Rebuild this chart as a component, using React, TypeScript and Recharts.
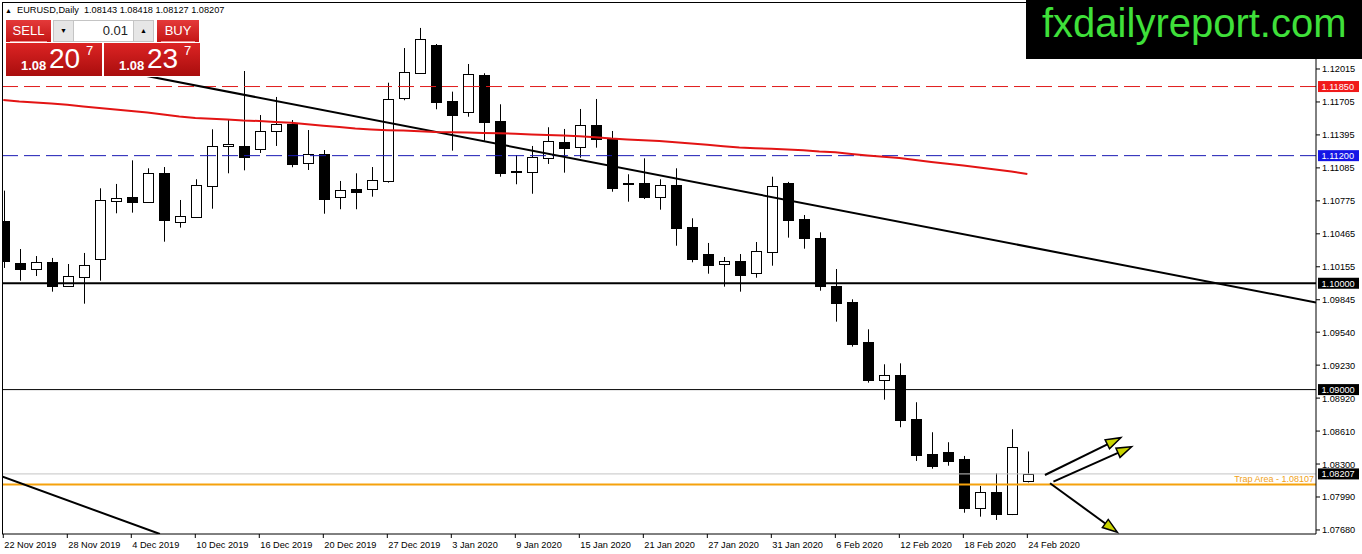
import React from 'react';
import { ComposedChart, Bar, Line, XAxis, YAxis, ReferenceLine } from 'recharts';

// date labels, one every 4 bars
const tickLabels = [
  '22 Nov 2019', '28 Nov 2019', '4 Dec 2019', '10 Dec 2019', '16 Dec 2019', '20 Dec 2019',
  '27 Dec 2019', '3 Jan 2020', '9 Jan 2020', '15 Jan 2020', '21 Jan 2020', '27 Jan 2020',
  '31 Jan 2020', '6 Feb 2020', '12 Feb 2020', '18 Feb 2020', '24 Feb 2020',
];

const open = [
  1.10588, 1.10188, 1.10131, 1.10197, 1.09977, 1.10062, 1.10225, 1.10777, 1.10811, 1.10761,
  1.11037, 1.10573, 1.10626, 1.10918, 1.11288, 1.11291, 1.11266, 1.11429, 1.11498, 1.11128,
  1.11213, 1.10808, 1.10889, 1.10884, 1.10965, 1.11745, 1.11975, 1.12241, 1.11714, 1.11608,
  1.11959, 1.11526, 1.11053, 1.11049, 1.11175, 1.11329, 1.11279, 1.11486, 1.11354, 1.10940,
  1.10940, 1.10808, 1.10921, 1.10529, 1.10275, 1.10178, 1.10209, 1.10094, 1.10297, 1.10943,
  1.10602, 1.10423, 1.09974, 1.09824, 1.09448, 1.09088, 1.09137, 1.08724, 1.08395, 1.08413,
  1.08347, 1.07890, 1.08037, 1.07827, 1.08143,
];
const high = [
  1.10871, 1.10322, 1.10256, 1.10238, 1.10181, 1.10285, 1.10893, 1.10934, 1.11156, 1.11081,
  1.11093, 1.10783, 1.10978, 1.11448, 1.11535, 1.11996, 1.11582, 1.11752, 1.11535, 1.11441,
  1.11253, 1.10962, 1.11034, 1.11093, 1.11886, 1.12212, 1.12401, 1.12250, 1.11802, 1.12062,
  1.11975, 1.11683, 1.11206, 1.11291, 1.11467, 1.11451, 1.11639, 1.11733, 1.11432, 1.11025,
  1.11175, 1.10978, 1.11081, 1.10611, 1.10379, 1.10247, 1.10275, 1.10388, 1.11002, 1.10953,
  1.10642, 1.10479, 1.10134, 1.09849, 1.09567, 1.09238, 1.09247, 1.08881, 1.08599, 1.08505,
  1.08376, 1.08094, 1.08213, 1.08627, 1.08418,
];
const low = [
  1.10144, 1.10024, 1.10068, 1.09921, 1.09970, 1.09808, 1.10024, 1.10658, 1.10664, 1.10755,
  1.10391, 1.10523, 1.10617, 1.10701, 1.11034, 1.11062, 1.11225, 1.11291, 1.11091, 1.11065,
  1.10654, 1.10696, 1.10696, 1.10814, 1.10946, 1.11721, 1.11968, 1.11636, 1.11247, 1.11566,
  1.11341, 1.11002, 1.10931, 1.10842, 1.11122, 1.11040, 1.11181, 1.11275, 1.10861, 1.10767,
  1.10792, 1.10692, 1.10353, 1.10197, 1.10090, 1.09968, 1.09921, 1.10052, 1.10165, 1.10429,
  1.10325, 1.09930, 1.09639, 1.09404, 1.09065, 1.08905, 1.08646, 1.08329, 1.08256, 1.08284,
  1.07842, 1.07805, 1.07774, 1.07820, 1.08127,
];
const close = [
  1.10212, 1.10131, 1.10197, 1.09977, 1.10066, 1.10169, 1.10780, 1.10799, 1.10767, 1.11037,
  1.10598, 1.10630, 1.10924, 1.11288, 1.11307, 1.11190, 1.11432, 1.11495, 1.11124, 1.11213,
  1.10795, 1.10877, 1.10861, 1.10971, 1.11733, 1.11987, 1.12297, 1.11708, 1.11585, 1.11965,
  1.11519, 1.11040, 1.11044, 1.11190, 1.11335, 1.11275, 1.11486, 1.11354, 1.10893, 1.10934,
  1.10808, 1.10921, 1.10523, 1.10231, 1.10175, 1.10209, 1.10081, 1.10303, 1.10912, 1.10598,
  1.10429, 1.09970, 1.09817, 1.09432, 1.09093, 1.09135, 1.08717, 1.08388, 1.08284, 1.08332,
  1.07890, 1.08034, 1.07827, 1.08460, 1.08207,
];
// moving average (red)
const ma = [
  1.11724, 1.11709, 1.11700, 1.11691, 1.11678, 1.11662, 1.11648, 1.11634, 1.11620, 1.11606,
  1.11587, 1.11568, 1.11554, 1.11547, 1.11540, 1.11531, 1.11526, 1.11517, 1.11510, 1.11496,
  1.11482, 1.11470, 1.11455, 1.11446, 1.11440, 1.11436, 1.11430, 1.11422, 1.11420, 1.11417,
  1.11413, 1.11410, 1.11406, 1.11399, 1.11394, 1.11390, 1.11383, 1.11374, 1.11361, 1.11352,
  1.11344, 1.11338, 1.11326, 1.11314, 1.11303, 1.11289, 1.11277, 1.11270, 1.11265, 1.11258,
  1.11250, 1.11239, 1.11232, 1.11216, 1.11202, 1.11190, 1.11178, 1.11159, 1.11140, 1.11124,
  1.11108, 1.11089, 1.11070, 1.11051, 1.11028,
];

const priceTicks = [
  1.12015, 1.11705, 1.11395, 1.11085, 1.10775, 1.10465, 1.10155, 1.09845,
  1.0954, 1.0923, 1.0892, 1.0861, 1.083, 1.0799, 1.0768,
];
const upperLevel = 1.1185;
const midLevel = 1.112;
const roundLevel = 1.1;
const lowerLevel = 1.09;
const bidPrice = 1.08207;
const trapLevel = 1.08107;

// drawn objects: [barIndex, price] pairs
const trendMain = [[7.92, 1.1198], [82.04, 1.09819]];
const trendLow = [[-0.08, 1.08183], [9.79, 1.07642]];
const arrows = [
  [[65.1, 1.08197], [69.84, 1.08548]],
  [[65.63, 1.08134], [70.52, 1.08463]],
  [[65.42, 1.08119], [69.63, 1.07658]],
];

const rows = open.map((o, i) => ({
  i, o, h: high[i], l: low[i], c: close[i], range: [low[i], high[i]], ma: ma[i],
}));

const FONT = 'Liberation Sans, Arial, sans-serif';

const Candle = (props: any) => {
  const { x, y, width, height, payload } = props;
  if (x == null || y == null || !payload) return null;
  const cx = Math.round(x + width / 2) + 0.5;
  const span = payload.h - payload.l;
  const toY = (p: number) => y + ((payload.h - p) / span) * height;
  const yo = toY(payload.o);
  const yc = toY(payload.c);
  const top = Math.round(Math.min(yo, yc)) + 0.5;
  const bot = Math.round(Math.max(yo, yc)) + 0.5;
  const bull = payload.c >= payload.o;
  return (
    <g>
      <line x1={cx} x2={cx} y1={y} y2={y + height} stroke="#000" strokeWidth={1} />
      <rect x={cx - 5} y={top} width={10} height={Math.max(bot - top, 1)}
        fill={bull ? '#fff' : '#000'} stroke="#000" strokeWidth={1} />
    </g>
  );
};

const PriceTick = (props: any) => {
  const { x, y, payload } = props;
  return (
    <g>
      <line x1={x - 6} x2={x - 2} y1={y} y2={y} stroke="#000" />
      <text x={x} y={y + 3.5} fontSize={9.2} fill="#000" fontFamily={FONT}>
        {Number(payload.value).toFixed(5)}
      </text>
    </g>
  );
};

const DateTick = (props: any) => {
  const { x, y, payload } = props;
  const label = tickLabels[Math.round(payload.value / 4)];
  return (
    <g>
      <line x1={x} x2={x} y1={y - 6} y2={y - 2} stroke="#000" />
      <text x={x + 1} y={y + 8} fontSize={9.2} fill="#000" fontFamily={FONT}>{label}</text>
    </g>
  );
};

const priceTag = (price: number, bg: string) => (props: any) => {
  const vb = props.viewBox;
  if (!vb) return null;
  const x = vb.x + vb.width + 2;
  const y = vb.y;
  return (
    <g>
      <rect x={x} y={y - 5.5} width={41} height={11} fill={bg} />
      <text x={x + 3.5} y={y + 3.5} fontSize={9.2} fill="#fff" fontFamily={FONT}>{price.toFixed(5)}</text>
    </g>
  );
};

const trapLabel = (props: any) => {
  const vb = props.viewBox;
  if (!vb) return null;
  return (
    <text x={vb.x + vb.width - 2} y={vb.y - 3} textAnchor="end" fontSize={9} fill="#f0a21a" fontFamily={FONT}>
      {`Trap Area - ${trapLevel.toFixed(5)}`}
    </text>
  );
};

const Arrow = (props: any) => {
  const { x1, y1, x2, y2 } = props;
  const ang = Math.atan2(y2 - y1, x2 - x1);
  const len = 15;
  const hw = 5;
  const bx = x2 - len * Math.cos(ang);
  const by = y2 - len * Math.sin(ang);
  const px = -Math.sin(ang) * hw;
  const py = Math.cos(ang) * hw;
  return (
    <g>
      <line x1={x1} y1={y1} x2={bx} y2={by} stroke="#000" strokeWidth={2} />
      <polygon points={`${x2},${y2} ${bx + px},${by + py} ${bx - px},${by - py}`}
        fill="#c9d400" stroke="#000" strokeWidth={1.5} strokeLinejoin="miter" />
    </g>
  );
};

const redBtn = 'linear-gradient(#e43a3a, #c31515)';
const redBox = 'linear-gradient(#dc2424, #a90d0d)';

function TradePanel() {
  const big = (left: number, price: string, pips: string, frac: string) => (
    <div style={{ position: 'absolute', left, top: 43, width: 96, height: 33, background: redBox, color: '#fff' }}>
      <span style={{ position: 'absolute', left: 15, top: 16, fontSize: 13, lineHeight: '13px', fontWeight: 'bold' }}>{price}</span>
      <span style={{ position: 'absolute', left: 43, top: 2, fontSize: 28, lineHeight: '28px' }}>{pips}</span>
      <span style={{ position: 'absolute', left: 80, top: 1, fontSize: 13, lineHeight: '13px' }}>{frac}</span>
    </div>
  );
  const btn = (left: number, width: number, label: string) => (
    <div style={{ position: 'absolute', left, top: 20, width, height: 22, background: redBtn, color: '#fff', fontSize: 13, lineHeight: '21px', textAlign: 'center' }}>
      {label}
      <div style={{ position: 'absolute', left: 4, right: 4, bottom: 0, height: 1, background: '#ef8d8d' }} />
    </div>
  );
  return (
    <div style={{ position: 'absolute', left: 0, top: 0, fontFamily: FONT }}>
      <div style={{ position: 'absolute', left: 4, top: 18, width: 197, height: 59, background: '#fff' }} />
      {btn(6, 45, 'SELL')}
      {btn(157, 42, 'BUY')}
      <div style={{ position: 'absolute', left: 53, top: 20, width: 99, height: 20, border: '1px solid #c4c4c4', background: '#fff' }}>
        <div style={{ position: 'absolute', left: 0, top: 0, width: 19, height: 20, background: '#e6e6e6', borderRight: '1px solid #c4c4c4', fontSize: 7, lineHeight: '20px', textAlign: 'center' }}>▼</div>
        <div style={{ position: 'absolute', right: 25, top: 0, fontSize: 13, lineHeight: '20px', color: '#222' }}>0.01</div>
        <div style={{ position: 'absolute', right: 0, top: 0, width: 19, height: 20, background: '#e6e6e6', borderLeft: '1px solid #c4c4c4', fontSize: 7, lineHeight: '20px', textAlign: 'center' }}>▲</div>
      </div>
      {big(6, '1.08', '20', '7')}
      {big(104, '1.08', '23', '7')}
    </div>
  );
}

export default function App() {
  return (
    <div style={{ position: 'fixed', left: 0, top: 0, width: 1362, height: 554, background: '#fff', overflow: 'hidden' }}>
      <ComposedChart width={1362} height={554} data={rows} margin={{ top: 2, right: 0, bottom: 0, left: 2 }}>
        <XAxis dataKey="i" type="number" domain={[-0.08, 82.04]} allowDataOverflow
          ticks={tickLabels.map((_, k) => k * 4)} interval={0} height={20}
          tickLine={false} tickSize={4} tickMargin={2} axisLine={{ stroke: '#000' }} tick={DateTick} />
        <YAxis orientation="right" type="number" domain={[1.07642, 1.12645]} allowDataOverflow
          ticks={priceTicks} interval={0} width={46}
          tickLine={false} tickSize={4} tickMargin={2} axisLine={{ stroke: '#000' }} tick={PriceTick} />
        <ReferenceLine y={upperLevel} stroke="#e01b1b" strokeDasharray="16 6" label={priceTag(upperLevel, '#f01a1a')} />
        <ReferenceLine y={midLevel} stroke="#1a1ab4" strokeDasharray="16 6" label={priceTag(midLevel, '#1515e6')} />
        <ReferenceLine y={roundLevel} stroke="#000" strokeWidth={2} label={priceTag(roundLevel, '#000')} />
        <ReferenceLine y={lowerLevel} stroke="#000" strokeWidth={1} label={priceTag(lowerLevel, '#000')} />
        <ReferenceLine y={bidPrice} stroke="#c4c4c4" strokeWidth={1} label={priceTag(bidPrice, '#000')} />
        <ReferenceLine y={trapLevel} stroke="#f5a20c" strokeWidth={2} label={trapLabel} />
        <ReferenceLine segment={trendMain.map(([x, y]) => ({ x, y }))} stroke="#000" strokeWidth={2} ifOverflow="hidden" />
        <ReferenceLine segment={trendLow.map(([x, y]) => ({ x, y }))} stroke="#000" strokeWidth={2} ifOverflow="hidden" />
        <Line dataKey="ma" stroke="#e31414" strokeWidth={2} dot={false} activeDot={false} isAnimationActive={false} />
        <Bar dataKey="range" barSize={11} shape={Candle} isAnimationActive={false} />
        {arrows.map((seg, k) => (
          <ReferenceLine key={k} segment={seg.map(([x, y]) => ({ x, y }))} shape={Arrow} ifOverflow="visible" />
        ))}
      </ComposedChart>
      <div style={{ position: 'absolute', left: 2, top: 2, width: 1314, height: 532, borderLeft: '1px solid #000', borderTop: '1px solid #000', boxSizing: 'border-box', pointerEvents: 'none' }} />
      <div style={{ position: 'absolute', left: 5, top: 4, fontFamily: FONT, fontSize: 9.2, lineHeight: '12px', whiteSpace: 'pre', color: '#000' }}>
        <span style={{ fontSize: 7 }}>▲</span>{'  EURUSD,Daily  1.08143 1.08418 1.08127 1.08207'}
      </div>
      <TradePanel />
      <div style={{ position: 'absolute', left: 1026, top: 0, width: 336, height: 59, background: '#000' }}>
        <div style={{ position: 'absolute', left: 16, top: 0, fontFamily: FONT, fontSize: 40, lineHeight: '46px', color: '#3fe03a', whiteSpace: 'nowrap' }}>
          fxdailyreport.com
        </div>
      </div>
    </div>
  );
}
